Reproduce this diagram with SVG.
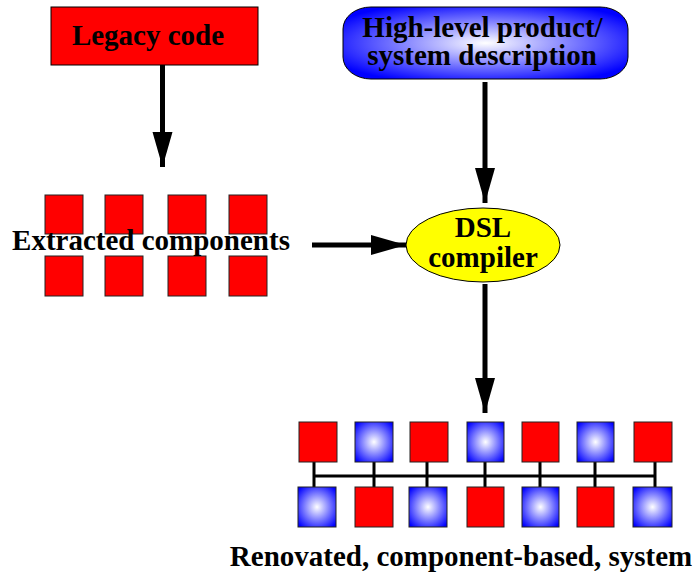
<svg xmlns="http://www.w3.org/2000/svg" width="696" height="575" viewBox="0 0 696 575">
<defs>
<radialGradient id="bg" cx="50%" cy="50%" r="60%">
<stop offset="0" stop-color="#ffffff"/>
<stop offset="1" stop-color="#0000ff"/>
</radialGradient>
<radialGradient id="sq" cx="50%" cy="50%" r="65%">
<stop offset="0" stop-color="#ffffff"/>
<stop offset="1" stop-color="#0000ff"/>
</radialGradient>
<marker id="ah" markerUnits="userSpaceOnUse" markerWidth="36" markerHeight="22" refX="35" refY="10" orient="auto">
<path d="M0,0 L35,10 L0,20 Z" fill="#000"/>
</marker>
</defs>
<style>
.t{font-family:'Liberation Serif','Times New Roman',serif;font-weight:bold;font-size:29px;fill:#000}
.r{fill:#ff0000;stroke:#222;stroke-width:1}
.b{fill:url(#sq);stroke:#222;stroke-width:1}
.c{stroke:#000;stroke-width:5;fill:none}
.bus{stroke:#000;stroke-width:3;fill:none}
</style>
<g id="legacy">
<rect x="51" y="7" width="207" height="58" fill="#ff0000" stroke="#000" stroke-width="1"/>
<text class="t" x="148" y="45" text-anchor="middle">Legacy code</text>
</g>
<g id="highlevel">
<rect x="343" y="7" width="285" height="72" rx="28" ry="22" fill="url(#bg)" stroke="#000" stroke-width="1"/>
<text class="t" x="482.5" y="37" text-anchor="middle">High-level product/</text>
<text class="t" x="482" y="65" text-anchor="middle">system description</text>
</g>
<g id="extracted">
<rect class="r" x="45" y="195" width="38" height="39"/>
<rect class="r" x="105" y="195" width="38" height="39"/>
<rect class="r" x="168" y="195" width="38" height="39"/>
<rect class="r" x="229" y="195" width="38" height="39"/>
<rect class="r" x="45" y="256" width="38" height="40"/>
<rect class="r" x="105" y="256" width="38" height="40"/>
<rect class="r" x="168" y="256" width="38" height="40"/>
<rect class="r" x="229" y="256" width="38" height="40"/>
<text class="t" x="151" y="250" text-anchor="middle">Extracted components</text>
</g>
<g id="dsl">
<ellipse cx="483" cy="245" rx="77" ry="37" fill="#ffff00" stroke="#000" stroke-width="1"/>
<text class="t" x="483" y="237" text-anchor="middle">DSL</text>
<text class="t" x="483" y="267" text-anchor="middle">compiler</text>
</g>
<g id="renovated">
<g class="bus">
<path d="M314,476 H655"/>
<path d="M314,462 V487 M374,462 V487 M427,462 V487 M485,462 V487 M540,462 V487 M595,462 V487 M655,462 V487"/>
</g>
<rect class="r" x="299" y="422" width="38" height="40"/>
<rect class="b" x="355" y="422" width="38" height="40"/>
<rect class="r" x="410" y="422" width="38" height="40"/>
<rect class="b" x="467" y="422" width="37" height="40"/>
<rect class="r" x="522" y="422" width="37" height="40"/>
<rect class="b" x="577" y="422" width="37" height="40"/>
<rect class="r" x="634" y="422" width="38" height="40"/>
<rect class="b" x="298" y="487" width="38" height="40"/>
<rect class="r" x="355" y="487" width="38" height="40"/>
<rect class="b" x="409" y="487" width="38" height="40"/>
<rect class="r" x="467" y="487" width="37" height="40"/>
<rect class="b" x="522" y="487" width="37" height="40"/>
<rect class="r" x="577" y="487" width="37" height="40"/>
<rect class="b" x="633" y="487" width="39" height="40"/>
<text class="t" x="461" y="566" text-anchor="middle">Renovated, component-based, system</text>
</g>
<g id="connectors">
<path class="c" d="M162.5,65 V167" marker-end="url(#ah)"/>
<path class="c" d="M485,82 V203" marker-end="url(#ah)"/>
<path class="c" d="M312,245 H406" marker-end="url(#ah)"/>
<path class="c" d="M485,284 V413" marker-end="url(#ah)"/>
</g>
</svg>
